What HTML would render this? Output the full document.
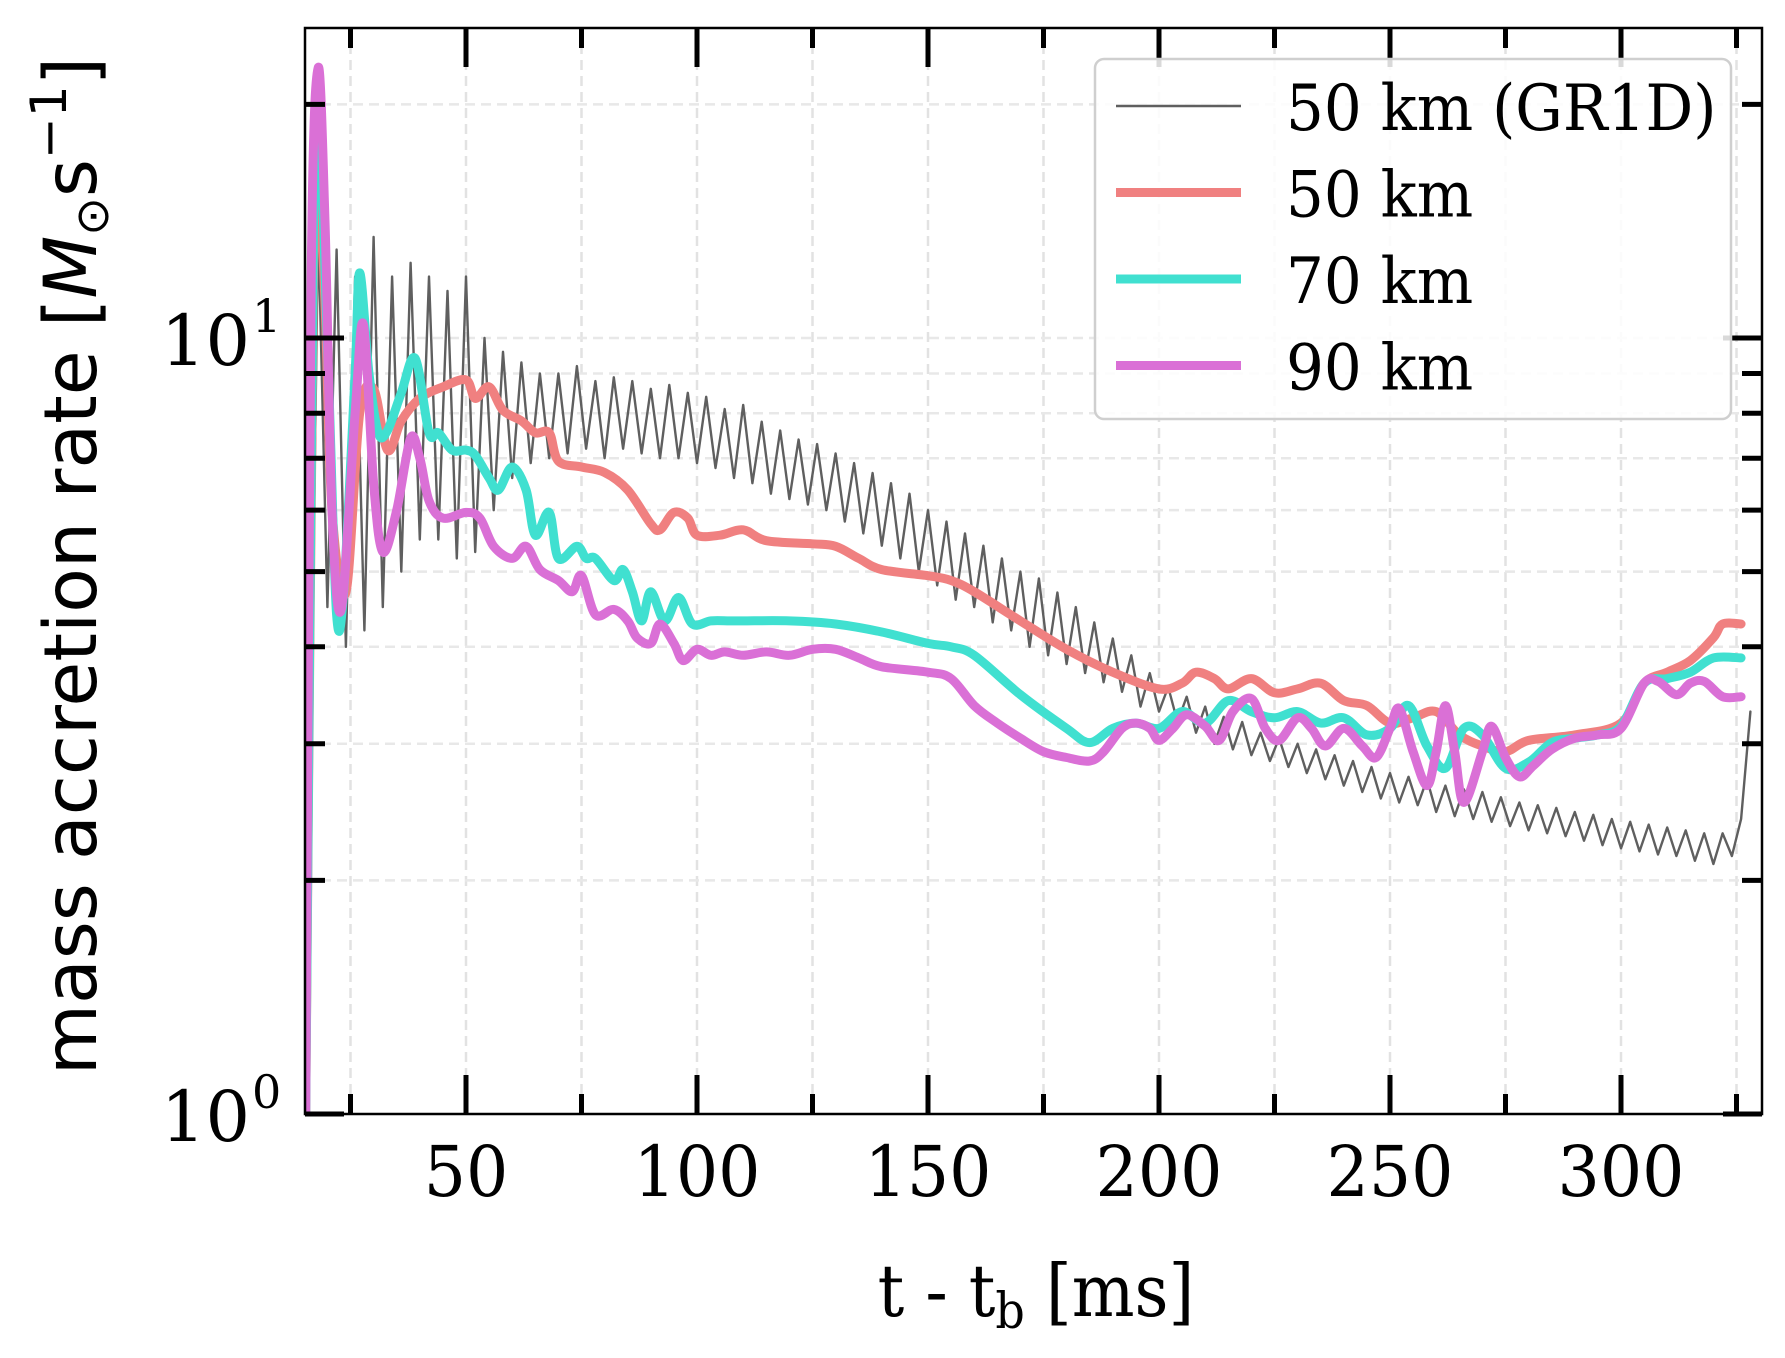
<!DOCTYPE html>
<html><head><meta charset="utf-8"><style>
html,body{margin:0;padding:0;background:#fff;}
svg{display:block;}
text{font-family:"DejaVu Serif","Liberation Serif",serif;fill:#000;}
</style></head><body>
<svg id="chart" width="1785" height="1358" viewBox="0 0 1785 1358">
<rect width="1785" height="1358" fill="#fff"/>
<g id="grid"></g>
<defs><clipPath id="clip"><rect x="305" y="28" width="1457" height="1086"/></clipPath></defs>
<g id="series" clip-path="url(#clip)"></g>
<g id="axes"></g>
<g id="legend"></g>
<text transform="translate(1036,1316) scale(0.92,1)" text-anchor="middle" font-size="72">t - t<tspan font-size="50" dy="12">b</tspan><tspan dy="-12"> [ms]</tspan></text>
<text transform="translate(96,566) rotate(-90)" text-anchor="middle" font-size="73" style="font-family:'DejaVu Sans','Liberation Sans',sans-serif">mass accretion rate [<tspan font-style="italic">M</tspan><tspan font-size="46" dy="12">⊙</tspan><tspan dy="-12">s</tspan><tspan font-size="50" dy="-30">−1</tspan><tspan dy="30">]</tspan></text>
</svg>
<script>
// ---- data ----
const xTicksMajor = [50,100,150,200,250,300];
const xTicksMinor = [25,75,125,175,225,275,325];
const yTicksMinor = [2,3,4,5,6,7,8,9,20];
const grT0 = 16, grDt = 2;
const grVals = [2,14,4.5,13,4,12,4.2,13.5,4.5,12,5,12.5,5.5,12,5.5,11.5,5.2,12,5.3,10,6,9.6,6.6,9.3,6.9,9,7.0,9,7.1,9.2,7.2,8.8,7.0,8.9,7.2,8.8,7.1,8.6,7.0,8.7,7.0,8.5,6.9,8.4,6.8,8.1,6.6,8.2,6.5,7.8,6.3,7.6,6.2,7.4,6.1,7.3,6.0,7.1,5.8,6.9,5.6,6.7,5.4,6.5,5.2,6.3,5.0,6.0,4.8,5.8,4.6,5.6,4.5,5.4,4.3,5.2,4.2,5.0,4.0,4.9,3.9,4.7,3.8,4.5,3.7,4.3,3.6,4.1,3.5,3.9,3.35,3.7,3.3,3.55,3.2,3.45,3.1,3.35,3.0,3.25,2.95,3.2,2.9,3.1,2.85,3.05,2.8,3.0,2.75,2.95,2.7,2.9,2.65,2.85,2.6,2.8,2.55,2.75,2.52,2.72,2.5,2.7,2.45,2.65,2.42,2.62,2.4,2.6,2.38,2.56,2.35,2.52,2.32,2.5,2.3,2.48,2.28,2.45,2.25,2.43,2.22,2.4,2.2,2.38,2.18,2.36,2.16,2.34,2.15,2.32,2.12,2.3,2.1,2.3,2.15,2.4,3.3];
const redT = [15.3,17,18,19.5,21,24,27,30,33,36,40,45,50,52,55,58,62,65,68,70,75,80,85,90,92,95,98,100,105,110,115,125,130,135,140,150,155,160,170,180,190,200,205,208,212,215,220,225,230,235,240,245,250,255,260,265,270,275,280,290,300,305,310,315,320,322,326];
const redV = [1,12,16.4,11,6,4.7,8,8.6,7.17,7.82,8.36,8.65,8.83,8.36,8.65,8.07,7.82,7.55,7.55,6.94,6.82,6.71,6.37,5.76,5.66,5.96,5.86,5.57,5.57,5.66,5.48,5.43,5.39,5.20,5.03,4.94,4.87,4.71,4.32,3.97,3.71,3.53,3.59,3.71,3.64,3.53,3.64,3.49,3.53,3.59,3.41,3.36,3.19,3.24,3.30,3.08,2.98,2.93,3.03,3.08,3.19,3.59,3.71,3.84,4.11,4.28,4.28];
const cyanT = [15.3,17,18,19,20.5,22,23.5,26,27,29,31,33,36,39,42,44,47,50,52,55,57,60,63,65,68,70,74,76,78,82,84,86,88,90,93,96,99,103,107,110,120,130,140,150,155,160,170,180,185,190,195,200,205,210,215,220,225,230,235,240,245,250,254,258,262,266,270,275,280,285,290,295,300,305,310,315,320,326];
const cyanV = [1,14,19.8,15,8,4.4,4.7,9,12.13,9,7.55,7.6,8.5,9.41,7.55,7.55,7.17,7.17,7.06,6.60,6.37,6.82,6.37,5.57,5.96,5.20,5.39,5.20,5.20,4.87,5.03,4.71,4.32,4.71,4.32,4.63,4.28,4.32,4.32,4.32,4.32,4.28,4.18,4.04,4.00,3.90,3.47,3.14,3.01,3.14,3.19,3.14,3.30,3.19,3.41,3.30,3.24,3.30,3.19,3.24,3.08,3.14,3.36,2.98,2.79,3.14,3.08,2.79,2.84,3.01,3.05,3.08,3.16,3.59,3.64,3.71,3.87,3.87];
const magT = [15.3,16.5,18,19.5,21,23,26,27.8,30,32,35,38,40,42,45,50,53,56,60,63,66,70,73,75,78,82,85,87,90,92,95,97,100,103,106,110,115,120,125,130,135,140,150,155,160,165,170,175,180,185,188,192,195,198,200,203,206,210,213,216,220,223,226,230,233,236,240,244,247,250,252,255,258,260,262,264,266,270,272,275,278,281,285,290,295,300,305,308,312,315,318,322,326];
const magV = [1,12,22.3,14,6,4.47,8,10.41,6.5,5.3,6.0,7.43,7.0,6.17,5.86,5.96,5.86,5.39,5.20,5.39,5.03,4.87,4.71,4.94,4.40,4.47,4.32,4.11,4.04,4.28,4.04,3.84,3.97,3.90,3.94,3.90,3.94,3.90,3.97,3.97,3.87,3.77,3.71,3.64,3.36,3.19,3.05,2.93,2.88,2.85,2.93,3.14,3.19,3.14,3.03,3.14,3.27,3.16,3.03,3.30,3.43,3.14,3.03,3.24,3.14,2.98,3.14,2.98,2.88,3.14,3.33,2.93,2.65,2.93,3.36,2.93,2.52,2.93,3.16,2.88,2.72,2.81,2.95,3.05,3.08,3.14,3.59,3.61,3.47,3.59,3.61,3.45,3.45];

// ---- scales ----
const X0 = 305, X1 = 1762, Y0 = 28, Y1 = 1114;
const xs = t => 235 + 4.62 * t;
const ys = v => 1114 - 776 * Math.log10(v);
const NS = 'http://www.w3.org/2000/svg';
function mk(tag, attrs, parent) {
  const e = document.createElementNS(NS, tag);
  for (const k in attrs) e.setAttribute(k, attrs[k]);
  parent.appendChild(e);
  return e;
}
const grid = document.getElementById('grid');
const axes = document.getElementById('axes');
const series = document.getElementById('series');
const legend = document.getElementById('legend');

// grid
[...xTicksMajor, ...xTicksMinor].forEach(t => {
  const l = mk('line', {x1: xs(t), x2: xs(t), y1: Y0, y2: Y1, stroke: '#e2e2e2', 'stroke-width': 2.5, 'stroke-dasharray': '10,6'}, grid);
  
  
});
[...yTicksMinor, 10].forEach(v => {
  const l = mk('line', {x1: X0, x2: X1, y1: ys(v), y2: ys(v), stroke: '#e8e8e8', 'stroke-width': 2.5, 'stroke-dasharray': '10,6'}, grid);
  
  
});

// series
function poly(T, V, color, w, name) {
  const pts = T.map((t, i) => xs(t).toFixed(1) + ',' + ys(V[i]).toFixed(1)).join(' ');
  const p = mk('polyline', {points: pts, fill: 'none', stroke: color, 'stroke-width': w, 'stroke-linejoin': 'round', 'stroke-linecap': 'round'}, series);
  
  
}
function smooth(T, V, color, w, name) {
  const P = T.map((t, i) => [xs(t), ys(V[i])]);
  let d = 'M' + P[0][0].toFixed(1) + ',' + P[0][1].toFixed(1);
  for (let i = 0; i < P.length - 1; i++) {
    const p0 = P[Math.max(0, i - 1)], p1 = P[i], p2 = P[i + 1], p3 = P[Math.min(P.length - 1, i + 2)];
    const c1 = [p1[0] + (p2[0] - p0[0]) / 6, p1[1] + (p2[1] - p0[1]) / 6];
    const c2 = [p2[0] - (p3[0] - p1[0]) / 6, p2[1] - (p3[1] - p1[1]) / 6];
    d += ' C' + c1[0].toFixed(1) + ',' + c1[1].toFixed(1) + ' ' + c2[0].toFixed(1) + ',' + c2[1].toFixed(1) + ' ' + p2[0].toFixed(1) + ',' + p2[1].toFixed(1);
  }
  const p = mk('path', {d: d, fill: 'none', stroke: color, 'stroke-width': w, 'stroke-linejoin': 'round', 'stroke-linecap': 'round'}, series);
  
  
}
const grT = grVals.map((v, i) => grT0 + i * grDt);
poly([15.3, ...grT], [1, ...grVals], '#5f5f5f', 2.4, 'series-50km-gr1d');
smooth(redT, redV, '#F08080', 9, 'series-50km');
smooth(cyanT, cyanV, '#40E0D0', 9, 'series-70km');
smooth(magT, magV, '#DA70D6', 9, 'series-90km');

// frame
const fr = mk('rect', {x: X0, y: Y0, width: X1 - X0, height: Y1 - Y0, fill: 'none', stroke: '#000', 'stroke-width': 2.5}, axes);



// x ticks
function xtick(t, len) {
  [[Y1, Y1 - len], [Y0, Y0 + len]].forEach(([a, b]) => {
    const l = mk('line', {x1: xs(t), x2: xs(t), y1: a, y2: b, stroke: '#000', 'stroke-width': 5}, axes);
    
    
  });
}
xTicksMajor.forEach(t => xtick(t, 39));
xTicksMinor.forEach(t => xtick(t, 20));
xTicksMajor.forEach(t => {
  const tx = mk('text', {transform: 'translate(' + xs(t) + ',1196) scale(0.95,1)', 'text-anchor': 'middle', 'font-size': 70}, axes);
  tx.textContent = t;
  
  
});
// y ticks
function ytick(v, len) {
  [[X0, X0 + len], [X1, X1 - len]].forEach(([a, b]) => {
    const l = mk('line', {x1: a, x2: b, y1: ys(v), y2: ys(v), stroke: '#000', 'stroke-width': 5}, axes);
    
    
  });
}
yTicksMinor.forEach(v => ytick(v, 20));
[1, 10].forEach(v => ytick(v, 39));
[[10, '1'], [1, '0']].forEach(([v, e]) => {
  const tx = mk('text', {x: 250, y: ys(v) + 27, 'text-anchor': 'end', 'font-size': 70}, axes);
  tx.textContent = '10';
  
  
  const sp = mk('text', {x: 252, y: ys(v) - 6, 'text-anchor': 'start', 'font-size': 46}, axes);
  sp.textContent = e;
  
  
});

// legend
const lb = mk('rect', {x: 1095, y: 59, width: 636, height: 360, rx: 9, fill: '#fff', 'fill-opacity': 0.85, stroke: '#cfcfcf', 'stroke-width': 2.5}, legend);


const legLabels = ['50 km (GR1D)', '50 km', '70 km', '90 km'];
const legColors = ['#5f5f5f', '#F08080', '#40E0D0', '#DA70D6'];
const legWidths = [2.4, 9, 9, 9];
legLabels.forEach((s, i) => {
  const y = 106 + i * 86.5;
  const g = mk('g', {}, legend);
  
  
  const l = mk('line', {x1: 1116, x2: 1241, y1: y, y2: y, stroke: legColors[i], 'stroke-width': legWidths[i]}, g);
  
  
  const t = mk('text', {transform: 'translate(1286,' + (y + 24) + ') scale(0.93,1)', 'font-size': 64}, g);
  t.textContent = s;
  
  
});
</script>
</body></html>
